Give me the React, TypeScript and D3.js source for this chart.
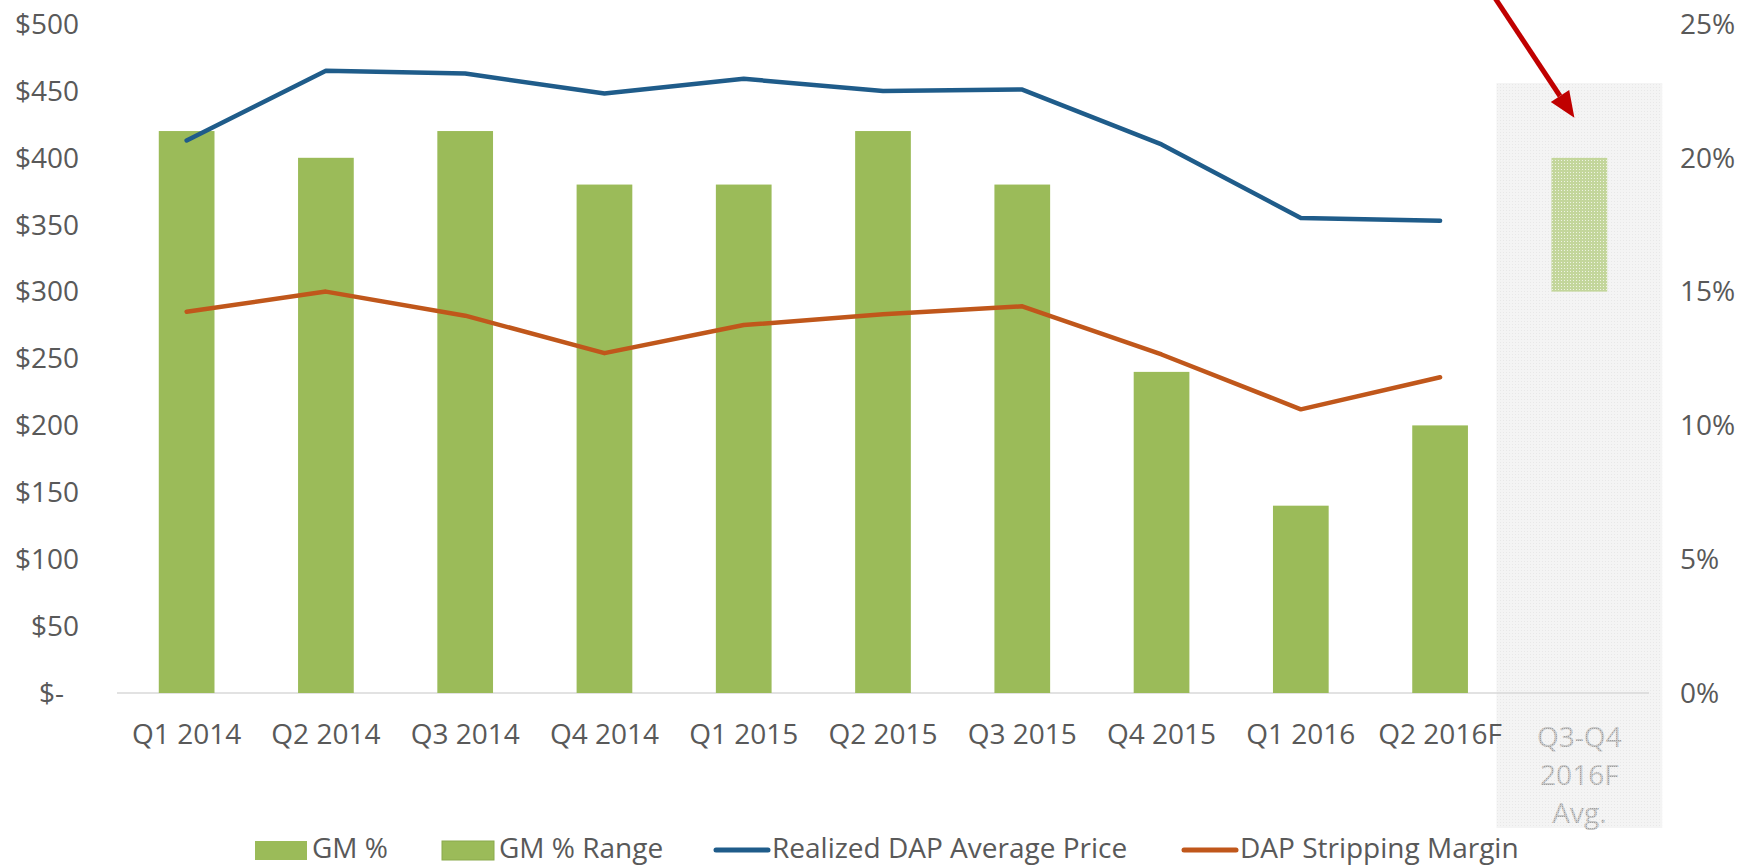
import React from "react";
import * as d3 from "d3";

const categories = ["Q1 2014", "Q2 2014", "Q3 2014", "Q4 2014", "Q1 2015", "Q2 2015", "Q3 2015", "Q4 2015", "Q1 2016", "Q2 2016F", "Q3-Q4 2016F Avg."];
const gmPct = [21, 20, 21, 19, 19, 21, 19, 12, 7, 10, null];
const gmRangeLow = [null, null, null, null, null, null, null, null, null, null, 15];
const gmRangeHigh = [null, null, null, null, null, null, null, null, null, null, 20];
const realizedPrice = [413, 465, 463, 448, 459, 450, 451, 410, 355, 353, null];
const strippingMargin = [285, 300, 282, 254, 275, 283, 289, 253, 212, 236, null];
const leftTicks = [0, 50, 100, 150, 200, 250, 300, 350, 400, 450, 500];
const rightTicks = [0, 5, 10, 15, 20, 25];
const lastLabelLines = ["Q3-Q4", "2016F", "Avg."];
const legendItems = [
  { label: "GM %", kind: "rect" },
  { label: "GM % Range", kind: "rect" },
  { label: "Realized DAP Average Price", kind: "line-blue" },
  { label: "DAP Stripping Margin", kind: "line-orange" },
];

const W = 1752, H = 866;
const GREEN = "#9BBB59";
const BLUE = "#1F5C8A";
const ORANGE = "#C0571B";
const TEXT = "#595959";
const FONT = "'Open Sans', sans-serif";

export default function App() {
  const x = d3.scaleBand<string>().domain(categories).range([117, 1649]).padding(0);
  const yL = d3.scaleLinear().domain([0, 500]).range([693, 24]);
  const yR = d3.scaleLinear().domain([0, 25]).range([693, 24]);
  const bw = x.bandwidth();
  const barW = bw * 0.4;
  const cx = (c: string) => (x(c) as number) + bw / 2;

  const lineGen = d3
    .line<[string, number | null]>()
    .defined((d) => d[1] != null)
    .x((d) => cx(d[0]))
    .y((d) => yL(d[1] as number));

  const bluePath = lineGen(categories.map((c, i) => [c, realizedPrice[i]]));
  const orangePath = lineGen(categories.map((c, i) => [c, strippingMargin[i]]));

  const last = categories[categories.length - 1];
  const lastCx = cx(last);

  // arrow
  const tipX = lastCx - 5;
  const tipY = yR(21.5);
  const startX = tipX - 88;
  const startY = -15;
  const ang = Math.atan2(tipY - startY, tipX - startX);
  const headL = 26, headW = 11;
  const bx = tipX - headL * Math.cos(ang);
  const by = tipY - headL * Math.sin(ang);
  const p1 = [bx + headW * Math.sin(ang), by - headW * Math.cos(ang)];
  const p2 = [bx - headW * Math.sin(ang), by + headW * Math.cos(ang)];

  const fmtL = (v: number) => (v === 0 ? "$-" : `$${v}`);

  const legendX = [255, 442, 714, 1182];
  const legendY = 848;

  return (
    <svg
      width={W}
      height={H}
      style={{ position: "fixed", left: 0, top: 0, background: "#fff" }}
      fontFamily={FONT}
    >
      <defs>
        <pattern id="bgDots" width="3" height="3" patternUnits="userSpaceOnUse">
          <rect width="3" height="3" fill="#F4F4F4" />
          <rect width="1" height="1" fill="#E8E8E8" />
        </pattern>
        <pattern id="greenDots" width="3" height="3" patternUnits="userSpaceOnUse">
          <rect width="3" height="3" fill="#C3D69B" />
          <rect x="1" y="1" width="1" height="1" fill="#EEF3E2" />
        </pattern>
        <pattern id="textDots" width="2" height="2" patternUnits="userSpaceOnUse">
          <rect width="2" height="2" fill="#C8C8C8" />
          <rect width="1" height="1" fill="#A0A0A0" />
        </pattern>
      </defs>

      {/* forecast background column */}
      <rect x={lastCx - bw * 0.595} y={83} width={bw * 1.19} height={745} fill="url(#bgDots)" />

      {/* axis baseline */}
      <line x1={x.range()[0]} x2={x.range()[1]} y1={yL(0)} y2={yL(0)} stroke="#D9D9D9" strokeWidth={1.5} />

      {/* bars */}
      {categories.map((c, i) =>
        gmPct[i] != null ? (
          <rect
            key={c}
            x={cx(c) - barW / 2}
            y={yR(gmPct[i] as number)}
            width={barW}
            height={yR(0) - yR(gmPct[i] as number)}
            fill={GREEN}
          />
        ) : null
      )}

      {/* range box */}
      {categories.map((c, i) =>
        gmRangeLow[i] != null ? (
          <rect
            key={"r" + c}
            x={cx(c) - barW / 2}
            y={yR(gmRangeHigh[i] as number)}
            width={barW}
            height={yR(gmRangeLow[i] as number) - yR(gmRangeHigh[i] as number)}
            fill="url(#greenDots)"
          />
        ) : null
      )}

      {/* lines */}
      <path d={bluePath || ""} fill="none" stroke={BLUE} strokeWidth={4.5} strokeLinecap="round" strokeLinejoin="round" />
      <path d={orangePath || ""} fill="none" stroke={ORANGE} strokeWidth={4.5} strokeLinecap="round" strokeLinejoin="round" />

      {/* left axis labels */}
      {leftTicks.map((t) => (
        <text
          key={"l" + t}
          x={t === 0 ? 64 : 79}
          y={yL(t)}
          dy="0.35em"
          textAnchor="end"
          fontSize={28}
          fill={TEXT}
        >
          {fmtL(t)}
        </text>
      ))}

      {/* right axis labels */}
      {rightTicks.map((t) => (
        <text key={"r" + t} x={1680} y={yR(t)} dy="0.35em" textAnchor="start" fontSize={28} fill={TEXT}>
          {`${t}%`}
        </text>
      ))}

      {/* x labels */}
      {categories.slice(0, -1).map((c) => (
        <text key={"x" + c} x={cx(c)} y={734} dy="0.35em" textAnchor="middle" fontSize={28} fill={TEXT}>
          {c}
        </text>
      ))}
      {lastLabelLines.map((l, i) => (
        <text key={"ll" + i} x={lastCx} y={737 + i * 38} dy="0.35em" textAnchor="middle" fontSize={28} fill="url(#textDots)">
          {l}
        </text>
      ))}

      {/* arrow */}
      <line x1={startX} y1={startY} x2={bx} y2={by} stroke="#C00000" strokeWidth={5} />
      <polygon points={`${tipX},${tipY} ${p1[0]},${p1[1]} ${p2[0]},${p2[1]}`} fill="#C00000" />

      {/* legend */}
      {legendItems.map((it, i) => {
        const lx = legendX[i];
        return (
          <g key={it.label}>
            {it.kind === "rect" ? (
              <rect x={lx} y={legendY - 7} width={52} height={19} fill={GREEN} stroke={i === 1 ? "#8AAA4C" : "none"} strokeWidth={1} />
            ) : (
              <line
                x1={lx + 2}
                x2={lx + 54}
                y1={legendY + 2}
                y2={legendY + 2}
                stroke={it.kind === "line-blue" ? BLUE : ORANGE}
                strokeWidth={5}
                strokeLinecap="round"
              />
            )}
            <text x={lx + (it.kind === "rect" ? 57 : 58)} y={legendY} dy="0.35em" fontSize={28} fill={TEXT}>
              {it.label}
            </text>
          </g>
        );
      })}
    </svg>
  );
}
